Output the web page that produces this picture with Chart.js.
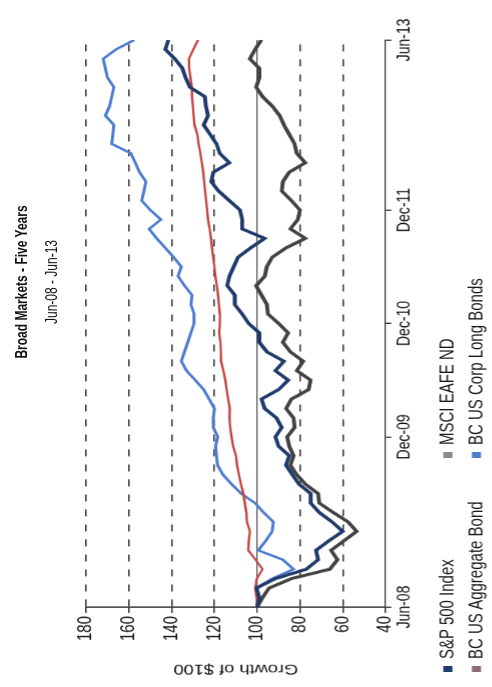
<!DOCTYPE html>
<html><head><meta charset="utf-8">
<script src="https://cdn.jsdelivr.net/npm/chart.js@4.4.1/dist/chart.umd.min.js"></script>
<style>
html,body{margin:0;padding:0;background:#fff;width:492px;height:687px;overflow:hidden;}
#rot{position:absolute;left:0;top:0;width:687px;height:379px;transform-origin:0 0;transform:translateY(687px) rotate(-90deg) scaleY(1.3);font-family:"Liberation Sans",Arial,sans-serif;color:#111;}
#c{position:absolute;left:0;top:0;width:687px;height:379px;}
.t{position:absolute;left:205px;width:400px;text-align:center;white-space:nowrap;line-height:14px;}
#title{top:10px;font-size:12px;font-weight:bold;}
#sub{top:33px;font-size:12px;}
.lg{position:absolute;display:flex;align-items:center;font-size:15px;white-space:nowrap;height:14px;line-height:14px;color:#1a1a1a;}
.lg i{display:inline-block;width:6px;height:7px;margin-right:7px;}
</style></head>
<body>
<div id="rot">
<canvas id="c" width="687" height="379"></canvas>
<div class="t" id="title">Broad Markets - Five Years</div>
<div class="t" id="sub">Jun-08 - Jun-13</div>
<div id="legend"></div>
</div>
<script>
// Months from Jun-08 (index 0) to Jun-13 (index 60)
const tickMonths = [0, 18, 30, 42, 60];
const tickLabels = ['Jun-08', 'Dec-09', 'Dec-10', 'Dec-11', 'Jun-13'];
const valueTicks = [40, 60, 80, 100, 120, 140, 160, 180];

const seriesNames = ['S&P 500 Index', 'MSCI EAFE ND', 'BC US Aggregate Bond', 'BC US Corp Long Bonds'];
const lineColors = ['#1f3a6b', '#424242', '#c4463f', '#4d7bcf'];
const markerColors = ['#1f3a6b', '#8a8a8a', '#8e6b78', '#4d7bcf'];

const sp500 = [100, 99, 100.3, 91.5, 77, 71.5, 72.5, 66.5, 60, 65, 71, 75, 75, 80.5, 83.5, 86.5, 85, 90, 91.5, 88.5,
  91, 96.5, 98, 90, 85.5, 91.5, 87.5, 95.5, 99, 99, 104, 107, 110.5, 110.5, 114, 113, 111, 109, 103, 96.5,
  107, 107, 108, 113, 118, 121.5, 120.5, 113, 117.5, 119, 122, 125, 123, 124, 124.5, 131.5, 133.5, 135, 138.5, 143, 141.5];
const msciEafe = [100, 97.5, 94.5, 84, 66, 62.5, 65.5, 59.5, 53.5, 57.5, 64.5, 71, 71.5, 77.5, 81.5, 84.5, 83, 85, 86, 82.5,
  83, 86.5, 84, 76, 75, 81.5, 78.5, 84.5, 88, 85.5, 90, 95, 95.5, 98, 100.5, 96.5, 95.5, 93, 86.5, 77.5,
  84.5, 81, 80, 84, 88.5, 88, 85, 77.5, 81.5, 82.5, 85, 87.5, 89.5, 93, 97.5, 100.5, 99, 99, 103.5, 101, 98];
const aggBond = [100, 100.3, 100.9, 100.2, 97.5, 100.8, 104.2, 103.9, 103.4, 104.8, 105.1, 105.8, 106.5, 107.6, 108.5, 109.4, 109.9, 111.2, 112, 112.6,
  113, 112.8, 113.6, 114.3, 114.9, 115.8, 116.9, 117, 117.2, 117.8, 117.4, 117.5, 117.9, 118.3, 118.8, 119.6, 120, 120.6, 121.1, 121.6,
  122.2, 123, 123.4, 123.9, 124.3, 124.8, 125.2, 125.9, 126.6, 127.4, 128, 129.3, 129.7, 130.1, 130.5, 130.6, 131.2, 131.8, 131.9, 129.8, 127.6];
const corpLong = [100, 99.5, 100.5, 93, 83, 88, 99.5, 96, 93, 92.5, 97, 101, 107.5, 112, 116, 118.5, 119, 119.5, 118.5, 120.5,
  120.5, 120, 122.5, 125, 129, 133, 135.5, 134, 132.5, 131, 129.5, 129.5, 131, 130.5, 134, 137, 135.5, 139, 143, 147,
  150.5, 145, 150, 154, 153, 152, 155, 157, 159, 168, 167.5, 167, 171, 169, 168, 167, 170, 171, 172, 166, 157.5];

const seriesData = [sp500, msciEafe, aggBond, corpLong];
const widths = [3, 3, 1.8, 2.3];

const FONT = '"Liberation Sans", Arial, sans-serif';

const datasets = seriesData.map((arr, k) => ({
  label: seriesNames[k],
  data: arr.map((v, i) => ({x: i, y: v})),
  borderColor: lineColors[k],
  backgroundColor: lineColors[k],
  borderWidth: widths[k],
  pointRadius: 0,
  tension: 0,
  fill: false
}));

const isVal = (c, v) => c && c.tick && c.tick.value === v;

new Chart(document.getElementById('c'), {
  type: 'line',
  data: {datasets},
  options: {
    responsive: false,
    animation: false,
    devicePixelRatio: 1.3,
    events: [],
    layout: {padding: {top: 66.15, right: 40, left: 0, bottom: 0}},
    plugins: {legend: {display: false}, tooltip: {enabled: false}, title: {display: false}},
    scales: {
      x: {
        type: 'linear', min: 0, max: 60,
        afterBuildTicks: s => { s.ticks = tickMonths.map(v => ({value: v})); },
        afterFit: s => { s.height = 379 - 296.15; },
        ticks: {
          autoSkip: false, maxRotation: 0, padding: 2, color: '#111',
          font: {family: FONT, size: 14},
          callback: v => tickLabels[tickMonths.indexOf(v)]
        },
        grid: {drawOnChartArea: false, drawTicks: true, tickLength: 4.5, color: '#333', lineWidth: 1.1},
        border: {display: true, color: '#333', width: 1}
      },
      y: {
        min: 40, max: 180,
        afterBuildTicks: s => { s.ticks = valueTicks.map(v => ({value: v})); },
        afterFit: s => { s.width = 80; },
        ticks: {padding: 3, color: '#111', font: {family: FONT, size: 15}},
        grid: {
          color: c => isVal(c, 40) ? 'rgba(0,0,0,0)' : (isVal(c, 100) ? '#555' : '#333'),
          lineWidth: c => isVal(c, 100) ? 0.9 : 1.1,
          tickBorderDash: [1, 0],
          tickColor: '#333',
          tickLength: 6
        },
        border: {
          display: true, color: '#333', width: 1.3,
          dash: c => isVal(c, 100) ? [] : [7, 8]
        },
        title: {display: true, text: 'Growth of $100', color: '#111', font: {family: FONT, size: 14}, padding: {top: 10, bottom: 0}}
      }
    }
  }
});

// Legend (two columns, two rows)
const legendPos = [[15, 337], [229, 337], [15, 359], [229, 359]];
const lg = document.getElementById('legend');
seriesNames.forEach((name, k) => {
  const d = document.createElement('div');
  d.className = 'lg';
  d.style.left = legendPos[k][0] + 'px';
  d.style.top = legendPos[k][1] + 'px';
  const m = document.createElement('i');
  m.style.background = markerColors[k];
  d.appendChild(m);
  d.appendChild(document.createTextNode(name));
  lg.appendChild(d);
});
</script>
</body></html>
